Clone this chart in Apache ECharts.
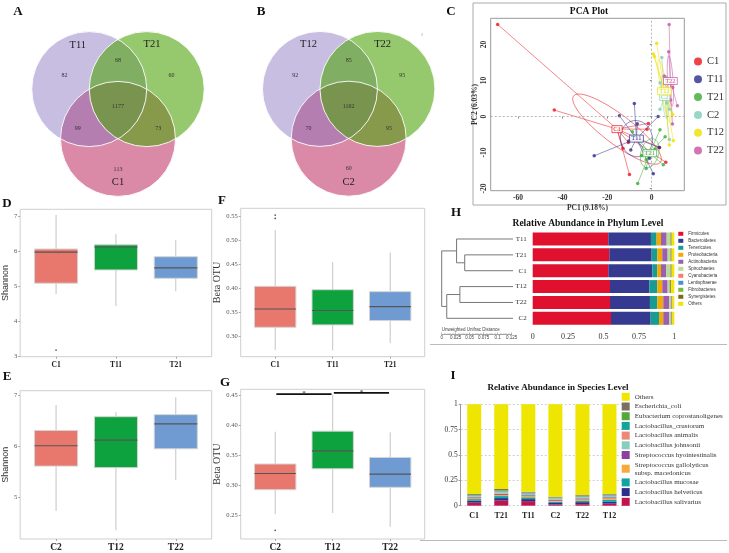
<!DOCTYPE html>
<html><head><meta charset="utf-8">
<script src="https://cdn.jsdelivr.net/npm/echarts@6/dist/echarts.min.js"></script>
<style>html,body{margin:0;padding:0;background:#fff}#c{width:729px;height:553px}</style>
</head><body><div id="c"></div>
<script>
// ---------------- DATA ----------------
// Venn A / B: region counts in order [only1, only2, only3, 1&2, 1&3, 2&3, all]
const vennA_sets = ['T11', 'T21', 'C1'];
const vennA_counts = [82, 60, 113, 68, 99, 73, 1177];
const vennB_sets = ['T12', 'T22', 'C2'];
const vennB_counts = [92, 95, 60, 85, 70, 95, 1162];

// PCA
const pcaGroups = ['C1', 'T11', 'T21', 'C2', 'T12', 'T22'];
const pcaC1 = [[-69.1,25.6],[-43.7,1.8],[-12.9,-8.8],[-10.5,-7.2],[-10.0,-16.1],[-2.1,-3.5],[-1.5,-1.9],[3.5,-8.6],[6.3,-12.7]];
const pcaT11 = [[-25.8,-10.9],[-14.5,0.2],[-7.8,3.6],[2.9,0.0],[-10.3,-6.8],[-9.4,-9.3],[0.7,-15.9],[3.3,-8.6],[-1.0,-11.6],[-6.5,-2.0]];
const pcaT21 = [[-6.3,-18.6],[-2.5,-12.0],[-4.5,-10.8],[3.7,-3.7],[6.0,-5.6],[5.2,-13.4],[-2.5,-14.4],[-8.7,-4.2],[1.5,-9.0]];
const pcaC2 = [[4.5,16.4],[3.7,9.4],[3.7,2.0],[7.9,-6.4],[6.4,11.0],[6.8,3.8],[8.0,2.0]];
const pcaT12 = [[2.2,20.4],[0.7,17.4],[1.2,16.7],[9.4,0.6],[9.7,-6.7],[7.9,-7.9],[6.5,6.0],[8.2,9.7]];
const pcaT22 = [[7.8,25.6],[7.6,18.0],[5.6,11.3],[9.4,8.1],[11.5,3.0],[9.3,-2.1],[7.2,10.5],[8.5,4.6]];
const pcaXTicks = [-60, -40, -20, 0];
const pcaYTicks = [-20, -10, 0, 10, 20];

// Box plots: [min, Q1, median, Q3, max]
const catsD = ['C1', 'T11', 'T21'];
const boxD = [[4.78,5.09,5.98,6.07,7.05],[4.43,5.47,6.13,6.19,6.50],[4.86,5.23,5.53,5.85,6.33]];
const outD = [[1, 3.17]];
const ticksD = [3, 4, 5, 6, 7];

const catsF = ['C1', 'T11', 'T21'];
const boxF = [[0.272,0.319,0.357,0.404,0.521],[0.271,0.324,0.354,0.397,0.454],[0.286,0.333,0.362,0.393,0.474]];
const outF = [[1, 0.552], [1, 0.545]];
const ticksF = [0.30, 0.35, 0.40, 0.45, 0.50, 0.55];

const catsE = ['C2', 'T12', 'T22'];
const boxE = [[4.73,5.61,6.01,6.31,6.81],[4.35,5.58,6.12,6.58,6.67],[5.34,5.95,6.44,6.62,6.96]];
const ticksE = [5, 6, 7];

const catsG = ['C2', 'T12', 'T22'];
const boxG = [[0.251,0.292,0.319,0.335,0.389],[0.253,0.327,0.357,0.390,0.451],[0.230,0.296,0.318,0.346,0.388]];
const outG = [[1, 0.224]];
const ticksG = [0.25, 0.30, 0.35, 0.40, 0.45];
const sigG = [[1, 2, 0.452, '*'], [2, 3, 0.454, '*']];

// Phylum level (rows top to bottom)
const phylumSamples = ['T11', 'T21', 'C1', 'T12', 'T22', 'C2'];
const phylumNames = ['Firmicutes','Bacteroidetes','Tenericutes','Proteobacteria','Actinobacteria','Spirochaetes','Cyanobacteria','Lentisphaerae','Fibrobacteres','Synergistetes','Others'];
const phFirmicutes     = [0.534,0.541,0.534,0.546,0.546,0.553];
const phBacteroidetes  = [0.301,0.299,0.311,0.278,0.282,0.280];
const phTenericutes    = [0.040,0.040,0.035,0.056,0.052,0.059];
const phProteobacteria = [0.031,0.035,0.026,0.035,0.042,0.030];
const phActinobacteria = [0.040,0.038,0.038,0.038,0.043,0.043];
const phSpirochaetes   = [0.023,0.016,0.025,0.012,0.009,0.009];
const phCyanobacteria  = [0.002,0.002,0.002,0.002,0.002,0.002];
const phLentisphaerae  = [0.002,0.002,0.002,0.002,0.002,0.002];
const phFibrobacteres  = [0.003,0.003,0.003,0.003,0.003,0.003];
const phSynergistetes  = [0.005,0.005,0.005,0.005,0.005,0.005];
const phOthers         = [0.019,0.019,0.019,0.023,0.014,0.014];
// dendrogram merges: [childA, childB, height, nodeName]
const dendroMerges = [['T21','C1',0.086,'n1'],['T11','n1',0.1005,'n2'],['T12','T22',0.0946,'n3'],['n3','C2',0.118,'n4'],['n2','n4',0.127,'root']];

// Species level
const speciesSamples = ['C1', 'T21', 'T11', 'C2', 'T22', 'T12'];
const speciesNames = ['Lactobacillus salivarius','Lactobacillus helveticus','Lactobacillus mucosae','Streptococcus gallolyticus subsp. macedonicus','Streptococcus hyointestinalis','Lactobacillus johnsonii','Lactobacillus animalis','Lactobacillus_crustorum','Eubacterium coprostanoligenes','Escherichia_coli','Others'];
const spSalivarius   = [0.030,0.050,0.045,0.012,0.015,0.020];
const spHelveticus   = [0.020,0.025,0.020,0.015,0.020,0.018];
const spMucosae      = [0.015,0.020,0.018,0.012,0.012,0.020];
const spGallolyticus = [0.010,0.012,0.012,0.010,0.015,0.015];
const spHyoint       = [0.008,0.010,0.008,0.010,0.010,0.010];
const spJohnsonii    = [0.010,0.015,0.012,0.010,0.012,0.012];
const spAnimalis     = [0.005,0.008,0.006,0.005,0.006,0.006];
const spCrustorum    = [0.005,0.007,0.006,0.005,0.005,0.005];
const spEubacterium  = [0.004,0.006,0.005,0.004,0.004,0.004];
const spEcoli        = [0.008,0.012,0.006,0.006,0.006,0.005];
const spOthers       = [0.885,0.835,0.862,0.911,0.895,0.885];

// ---------------- STYLE / LAYOUT ----------------
const SERIF = 'Liberation Serif';
const SANS = 'Liberation Sans';
const VENN_CENTERS = [[-0.5, 0.2887], [0.5, 0.2887], [0, -0.577]];
const VENN_REGION_POS = [[-0.93,0.52],[0.93,0.52],[0,-1.1],[0,0.78],[-0.7,-0.4],[0.7,-0.4],[0,-0.02]];
const VENN_SET_POS = [[-0.7,1.06],[0.59,1.07],[0,-1.33]];
const VENN_FILL = ['rgba(135,114,190,0.46)', 'rgba(80,163,13,0.6)', 'rgb(218,138,166)'];
const VENN_ORDER = [2, 0, 1];
const pcaColors = {C1:'#E8141C', T11:'#2B2B8C', T21:'#3AAA35', C2:'#7ECDB8', T12:'#EEE000', T22:'#C8529F'};
const pcaData = {C1:pcaC1, T11:pcaT11, T21:pcaT21, C2:pcaC2, T12:pcaT12, T22:pcaT22};
const boxColors = ['#E8786E', '#0DA23D', '#6F9BD2'];
const phylumValues = [phFirmicutes,phBacteroidetes,phTenericutes,phProteobacteria,phActinobacteria,phSpirochaetes,phCyanobacteria,phLentisphaerae,phFibrobacteres,phSynergistetes,phOthers];
const phylumColors = ['#E0102F','#35398F','#179C94','#F2A900','#9B5FB0','#B8DB95','#F08070','#4A90D0','#7AB83A','#7A6A1A','#F2E500'];
const speciesValues = [spSalivarius,spHelveticus,spMucosae,spGallolyticus,spHyoint,spJohnsonii,spAnimalis,spCrustorum,spEubacterium,spEcoli,spOthers];
const speciesColors = ['#C0144C','#2B2F8C','#12A4A4','#F7A93B','#8E3F9E','#86CFBC','#EE8878','#12A39A','#55A73A','#7D6E64','#EEE600'];

// ---------------- HELPERS ----------------
function vennSeries(idx, sets, counts) {
  return {
    type: 'custom', xAxisIndex: idx, yAxisIndex: idx, silent: true, z: 2, data: [[0, 0]],
    renderItem: function (params, api) {
      const r = api.size([1, 1])[0];
      const ch = [];
      VENN_ORDER.forEach(function (i) {
        const c = api.coord(VENN_CENTERS[i]);
        ch.push({type: 'circle', shape: {cx: c[0], cy: c[1], r: r}, style: {fill: VENN_FILL[i]}});
      });
      VENN_CENTERS.forEach(function (cc) {
        const c = api.coord(cc);
        ch.push({type: 'circle', shape: {cx: c[0], cy: c[1], r: r}, style: {fill: 'none', stroke: 'rgba(255,255,255,0.9)', lineWidth: 1}});
      });
      counts.forEach(function (n, k) {
        const p = api.coord(VENN_REGION_POS[k]);
        ch.push({type: 'text', x: p[0], y: p[1], style: {text: String(n), fill: '#333', fontSize: 6, fontFamily: SERIF, textAlign: 'center', textVerticalAlign: 'middle'}});
      });
      sets.forEach(function (s, k) {
        const p = api.coord(VENN_SET_POS[k]);
        ch.push({type: 'text', x: p[0], y: p[1], style: {text: s, fill: '#222', fontSize: 10.5, fontFamily: SERIF, textAlign: 'center', textVerticalAlign: 'middle'}});
      });
      return {type: 'group', children: ch};
    }
  };
}

function stats(pts) {
  const n = pts.length;
  let mx = 0, my = 0;
  pts.forEach(function (p) { mx += p[0]; my += p[1]; });
  mx /= n; my /= n;
  let sxx = 0, syy = 0, sxy = 0;
  pts.forEach(function (p) { sxx += (p[0]-mx)*(p[0]-mx); syy += (p[1]-my)*(p[1]-my); sxy += (p[0]-mx)*(p[1]-my); });
  sxx /= (n-1); syy /= (n-1); sxy /= (n-1);
  const a = (sxx + syy) / 2, b = Math.sqrt(((sxx - syy) / 2) ** 2 + sxy * sxy);
  return {mx: mx, my: my, l1: a + b, l2: Math.max(a - b, 0), th: 0.5 * Math.atan2(2 * sxy, sxx - syy)};
}

function pcaSpider(g) {
  const pts = pcaData[g], col = pcaColors[g], st = stats(pts), k = 0.8;
  return {
    type: 'custom', name: g + '_web', xAxisIndex: 2, yAxisIndex: 2, silent: true, z: 3, data: [[st.mx, st.my]],
    renderItem: function (params, api) {
      const c = api.coord([st.mx, st.my]);
      const ch = pts.map(function (p) {
        const q = api.coord(p);
        return {type: 'line', shape: {x1: c[0], y1: c[1], x2: q[0], y2: q[1]}, style: {stroke: col, lineWidth: 0.6, opacity: 0.85}};
      });
      const poly = [];
      for (let t = 0; t <= 72; t++) {
        const a = t / 72 * 2 * Math.PI;
        const u = k * Math.sqrt(st.l1) * Math.cos(a), v = k * Math.sqrt(st.l2) * Math.sin(a);
        poly.push(api.coord([st.mx + u * Math.cos(st.th) - v * Math.sin(st.th), st.my + u * Math.sin(st.th) + v * Math.cos(st.th)]));
      }
      ch.push({type: 'polyline', shape: {points: poly}, style: {stroke: col, fill: 'none', lineWidth: 0.7, opacity: 0.8}});
      return {type: 'group', children: ch};
    }
  };
}

function boxSeries(idx, box, name) {
  return {
    type: 'custom', name: name, xAxisIndex: idx, yAxisIndex: idx, silent: true, z: 3,
    data: box.map(function (b, i) { return [i + 1].concat(b); }),
    encode: {x: 0, y: [1, 2, 3, 4, 5]},
    renderItem: function (params, api) {
      const x = api.value(0), hw = 0.36;
      const pMin = api.coord([x, api.value(1)]), pQ1 = api.coord([x, api.value(2)]), pMed = api.coord([x, api.value(3)]),
            pQ3 = api.coord([x, api.value(4)]), pMax = api.coord([x, api.value(5)]);
      const l = api.coord([x - hw, api.value(3)])[0], r = api.coord([x + hw, api.value(3)])[0];
      return {type: 'group', children: [
        {type: 'line', shape: {x1: pMin[0], y1: pMin[1], x2: pMax[0], y2: pMax[1]}, style: {stroke: '#c9c2c2', lineWidth: 1}},
        {type: 'rect', shape: {x: l, y: pQ3[1], width: r - l, height: pQ1[1] - pQ3[1]}, style: {fill: boxColors[params.dataIndex], stroke: '#d4d4d4', lineWidth: 1}},
        {type: 'line', shape: {x1: l, y1: pMed[1], x2: r, y2: pMed[1]}, style: {stroke: '#555', lineWidth: 1.1}}
      ]};
    }
  };
}

function outSeries(idx, out) {
  return {type: 'scatter', xAxisIndex: idx, yAxisIndex: idx, silent: true, symbolSize: 1.8, itemStyle: {color: '#333'}, data: out, z: 4};
}

function boxAxes(gi, cats, ticks, ymin, ymax, dec, catFont) {
  const xa = {
    gridIndex: gi, type: 'value', min: 0.4, max: 3.6, splitLine: {show: false}, axisLine: {show: false},
    axisTick: {show: true, length: 2, customValues: [1, 2, 3], lineStyle: {color: '#aaa'}},
    axisLabel: {customValues: [1, 2, 3], formatter: function (v) { return cats[Math.round(v) - 1]; }, fontFamily: SERIF, fontWeight: 'bold', fontSize: catFont, color: '#222', margin: 4}
  };
  const ya = {
    gridIndex: gi, type: 'value', min: ymin, max: ymax, splitLine: {show: false}, axisLine: {show: false},
    axisTick: {show: true, length: 2, customValues: ticks, lineStyle: {color: '#aaa'}},
    axisLabel: {customValues: ticks, formatter: function (v) { return v.toFixed(dec); }, fontFamily: SERIF, fontSize: 6.5, color: '#555', margin: 3}
  };
  return [xa, ya];
}

const axD = boxAxes(3, catsD, ticksD, 2.98, 7.21, 0, 7.5);
const axF = boxAxes(4, catsF, ticksF, 0.258, 0.566, 2, 7.5);
const axE = boxAxes(5, catsE, ticksE, 4.18, 7.09, 0, 9.5);
const axG = boxAxes(6, catsG, ticksG, 0.2095, 0.460, 2, 9.5);
axD[1].name = 'Shannon'; axE[1].name = 'Shannon'; axF[1].name = 'Beta OTU'; axG[1].name = 'Beta OTU';
[axD[1], axE[1]].forEach(function (a) { a.nameLocation = 'middle'; a.nameGap = 5; a.nameTextStyle = {fontFamily: SANS, fontSize: 9, color: '#333'}; });
[axF[1], axG[1]].forEach(function (a) { a.nameLocation = 'middle'; a.nameGap = 17; a.nameTextStyle = {fontFamily: SERIF, fontSize: 10, color: '#333'}; });

const hidden = function (gi, min, max) { return {gridIndex: gi, type: 'value', min: min, max: max, show: false}; };
const gridBorder = {show: true, borderColor: '#cfcfcf', borderWidth: 1, backgroundColor: 'transparent'};

// ---------------- SERIES ----------------
const series = [];
series.push(vennSeries(0, vennA_sets, vennA_counts));
series.push(vennSeries(1, vennB_sets, vennB_counts));
// PCA zero lines
series.push({type: 'line', xAxisIndex: 2, yAxisIndex: 2, data: [], silent: true, z: 1,
  markLine: {silent: true, symbol: 'none', label: {show: false}, lineStyle: {color: '#999', type: [2, 2], width: 0.7},
    data: [{xAxis: 0}, {yAxis: 0}]}});
pcaGroups.forEach(function (g) { series.push(pcaSpider(g)); });
pcaGroups.forEach(function (g) {
  series.push({type: 'scatter', name: g, xAxisIndex: 2, yAxisIndex: 2, symbolSize: 3.5, itemStyle: {color: pcaColors[g]}, data: pcaData[g], z: 4});
});
series.push({
  type: 'custom', name: 'pcaLabels', xAxisIndex: 2, yAxisIndex: 2, silent: true, z: 5,
  data: pcaGroups.map(function (g) { const s = stats(pcaData[g]); return [s.mx, s.my]; }),
  renderItem: function (params, api) {
    const g = pcaGroups[params.dataIndex], col = pcaColors[g];
    const c = api.coord([api.value(0), api.value(1)]);
    const w = g.length * 3.6 + 3, h = 7;
    return {type: 'group', children: [
      {type: 'rect', shape: {x: c[0] - w / 2, y: c[1] - h / 2, width: w, height: h}, style: {fill: 'rgba(255,255,255,0.85)', stroke: col, lineWidth: 0.7}},
      {type: 'text', x: c[0], y: c[1], style: {text: g, fill: col, fontSize: 6.5, fontFamily: SERIF, textAlign: 'center', textVerticalAlign: 'middle'}}
    ]};
  }
});
// Box plots
series.push(boxSeries(3, boxD, 'boxD')); series.push(outSeries(3, outD));
series.push(boxSeries(4, boxF, 'boxF')); series.push(outSeries(4, outF));
series.push(boxSeries(5, boxE, 'boxE'));
series.push(boxSeries(6, boxG, 'boxG')); series.push(outSeries(6, outG));
series.push({
  type: 'custom', name: 'sigG', xAxisIndex: 6, yAxisIndex: 6, silent: true, z: 5, data: sigG,
  renderItem: function (params, api) {
    const a = api.coord([api.value(0) + 0.02, api.value(2)]), b = api.coord([api.value(1) - 0.02, api.value(2)]);
    return {type: 'group', children: [
      {type: 'line', shape: {x1: a[0], y1: a[1], x2: b[0], y2: b[1]}, style: {stroke: '#111', lineWidth: 1.6}},
      {type: 'text', x: (a[0] + b[0]) / 2, y: a[1] - 1, style: {text: sigG[params.dataIndex][3], fill: '#111', fontSize: 7, fontFamily: SERIF, textAlign: 'center', textVerticalAlign: 'middle'}}
    ]};
  }
});
// Dendrogram
series.push({
  type: 'custom', name: 'dendro', xAxisIndex: 7, yAxisIndex: 7, silent: true, z: 3, data: [[0, 0]],
  renderItem: function (params, api) {
    const nodes = {};
    phylumSamples.forEach(function (s, i) { nodes[s] = {h: 0, y: i}; });
    const ch = [];
    dendroMerges.forEach(function (m) {
      const A = nodes[m[0]], B = nodes[m[1]], h = m[2];
      const pts = [api.coord([A.h, A.y]), api.coord([h, A.y]), api.coord([h, B.y]), api.coord([B.h, B.y])];
      ch.push({type: 'polyline', shape: {points: pts}, style: {stroke: '#777', lineWidth: 1, fill: 'none'}});
      nodes[m[3]] = {h: h, y: (A.y + B.y) / 2};
    });
    return {type: 'group', children: ch};
  }
});
phylumNames.forEach(function (n, i) {
  series.push({type: 'bar', name: n, stack: 'phylum', xAxisIndex: 8, yAxisIndex: 8, barWidth: 13, data: phylumValues[i], itemStyle: {color: phylumColors[i]}, silent: true});
});
speciesNames.forEach(function (n, i) {
  series.push({type: 'bar', name: n, stack: 'species', xAxisIndex: 10, yAxisIndex: 10, barWidth: 14, data: speciesValues[i], itemStyle: {color: speciesColors[i]}, silent: true});
});

// ---------------- OPTION ----------------
const option = {
  animation: false,
  backgroundColor: '#fff',
  grid: [
    {left: 3, top: 5.1, width: 230, height: 201.25},
    {left: 233.7, top: 4.9, width: 230, height: 201.25},
    {left: 490.7, top: 18.3, width: 193.6, height: 172.4, show: true, borderColor: '#999', borderWidth: 1},
    Object.assign({left: 18.3, top: 209.3, width: 193.4, height: 147.4}, gridBorder),
    Object.assign({left: 240.7, top: 208.3, width: 184, height: 148.4}, gridBorder),
    Object.assign({left: 17.3, top: 390.7, width: 194.4, height: 151}, gridBorder),
    Object.assign({left: 240.7, top: 389.3, width: 184, height: 152.4}, gridBorder),
    {left: 441.7, top: 231.06, width: 71.3, height: 95.2},
    {left: 532.7, top: 231.06, width: 141.6, height: 95.2},
    {left: 441.7, top: 333, width: 70, height: 1},
    {left: 460.7, top: 404.3, width: 162.3, height: 101.4}
  ],
  xAxis: [
    hidden(0, -2, 2), hidden(1, -2, 2),
    {gridIndex: 2, type: 'value', min: -72.2, max: 14.6, splitLine: {show: false}, axisLine: {show: false},
      axisTick: {show: true, length: 2, customValues: pcaXTicks, lineStyle: {color: '#888'}},
      axisLabel: {customValues: pcaXTicks, fontFamily: SERIF, fontWeight: 'bold', fontSize: 7.5, color: '#333', margin: 3},
      name: 'PC1 (9.18%)', nameLocation: 'middle', nameGap: 13, nameTextStyle: {fontFamily: SERIF, fontWeight: 'bold', fontSize: 7.5, color: '#333'}},
    axD[0], axF[0], axE[0], axG[0],
    {gridIndex: 7, type: 'value', min: 0, max: 0.127, inverse: true, show: false},
    {gridIndex: 8, type: 'value', min: 0, max: 1, interval: 0.25, splitLine: {show: false}, axisLine: {show: false}, axisTick: {show: false},
      axisLabel: {fontFamily: SERIF, fontSize: 8, color: '#333', margin: 7}},
    {gridIndex: 9, type: 'value', min: 0, max: 0.125, interval: 0.025, splitLine: {show: false},
      axisLine: {show: true, lineStyle: {color: '#666', width: 0.6}}, axisTick: {show: true, length: 1.5, inside: true, lineStyle: {color: '#666', width: 0.5}},
      minorTick: {show: true, splitNumber: 5, length: 1, lineStyle: {color: '#666', width: 0.4}},
      axisLabel: {fontFamily: SANS, fontSize: 4.5, color: '#444', margin: 1.5}},
    {gridIndex: 10, type: 'category', data: speciesSamples, axisLine: {show: false}, axisTick: {show: false},
      axisLabel: {fontFamily: SERIF, fontWeight: 'bold', fontSize: 8, color: '#222', margin: 6}}
  ],
  yAxis: [
    hidden(0, -1.75, 1.75), hidden(1, -1.75, 1.75),
    {gridIndex: 2, type: 'value', min: -20.6, max: 27.3, splitLine: {show: false}, axisLine: {show: false},
      axisTick: {show: true, length: 2, customValues: pcaYTicks, lineStyle: {color: '#888'}},
      axisLabel: {customValues: pcaYTicks, rotate: 90, fontFamily: SERIF, fontWeight: 'bold', fontSize: 7.5, color: '#333', margin: 3},
      name: 'PC2 (6.03%)', nameLocation: 'middle', nameGap: 11, nameTextStyle: {fontFamily: SERIF, fontWeight: 'bold', fontSize: 7.5, color: '#333'}},
    axD[1], axF[1], axE[1], axG[1],
    {gridIndex: 7, type: 'value', min: -0.5, max: 5.5, inverse: true, show: false},
    {gridIndex: 8, type: 'category', data: phylumSamples, inverse: true, axisLine: {show: false}, axisTick: {show: false},
      axisLabel: {fontFamily: SERIF, fontSize: 7, color: '#333', margin: 6}},
    {gridIndex: 9, type: 'value', show: false},
    {gridIndex: 10, type: 'value', min: 0, max: 1, interval: 0.25,
      axisLine: {show: true, lineStyle: {color: '#999'}}, axisTick: {show: true, length: 2, lineStyle: {color: '#999'}},
      splitLine: {show: true, lineStyle: {color: '#bbb', type: [2, 2], width: 0.7}},
      axisLabel: {fontFamily: SERIF, fontSize: 7.5, color: '#333', margin: 3, formatter: function (v) { return String(v); }}}
  ],
  legend: [
    {data: pcaGroups, orient: 'vertical', left: 694, top: 56, padding: 0, icon: 'circle', itemWidth: 8, itemHeight: 8, itemGap: 6.8, selectedMode: false,
      textStyle: {fontFamily: SERIF, fontSize: 10.5, color: '#333', lineHeight: 10}},
    {data: phylumNames, orient: 'vertical', left: 678.3, top: 231.3, padding: 0, icon: 'rect', itemWidth: 5, itemHeight: 4, itemGap: 2, selectedMode: false,
      textStyle: {fontFamily: SANS, fontSize: 4.5, color: '#333', lineHeight: 4}},
    {data: speciesNames.slice().reverse(), orient: 'vertical', left: 621.7, top: 392.8, padding: 0, icon: 'rect', itemWidth: 8, itemHeight: 8, itemGap: 1.7, selectedMode: false,
      formatter: function (n) { return n.replace(' subsp.', '\nsubsp.'); },
      textStyle: {fontFamily: SERIF, fontSize: 7, color: '#333', lineHeight: 8}}
  ],
  graphic: [
    {type: 'rect', shape: {x: 473, y: 3, width: 253, height: 202}, style: {fill: 'none', stroke: '#aaa', lineWidth: 1}, silent: true},
    {type: 'line', shape: {x1: 430, y1: 344.5, x2: 727, y2: 344.5}, style: {stroke: '#bbb', lineWidth: 1}, silent: true},
    {type: 'line', shape: {x1: 420, y1: 540.5, x2: 727, y2: 540.5}, style: {stroke: '#bbb', lineWidth: 1}, silent: true},
    {type: 'text', x: 18, y: 12, style: {text: 'A', font: 'bold 13px "Liberation Serif"', fill: '#111', textAlign: 'center', textVerticalAlign: 'middle'}},
    {type: 'text', x: 261, y: 12, style: {text: 'B', font: 'bold 13px "Liberation Serif"', fill: '#111', textAlign: 'center', textVerticalAlign: 'middle'}},
    {type: 'text', x: 451, y: 12, style: {text: 'C', font: 'bold 13px "Liberation Serif"', fill: '#111', textAlign: 'center', textVerticalAlign: 'middle'}},
    {type: 'text', x: 7, y: 204, style: {text: 'D', font: 'bold 13px "Liberation Serif"', fill: '#111', textAlign: 'center', textVerticalAlign: 'middle'}},
    {type: 'text', x: 222, y: 201, style: {text: 'F', font: 'bold 13px "Liberation Serif"', fill: '#111', textAlign: 'center', textVerticalAlign: 'middle'}},
    {type: 'text', x: 7, y: 377, style: {text: 'E', font: 'bold 13px "Liberation Serif"', fill: '#111', textAlign: 'center', textVerticalAlign: 'middle'}},
    {type: 'text', x: 225, y: 383, style: {text: 'G', font: 'bold 13px "Liberation Serif"', fill: '#111', textAlign: 'center', textVerticalAlign: 'middle'}},
    {type: 'text', x: 456, y: 213, style: {text: 'H', font: 'bold 13px "Liberation Serif"', fill: '#111', textAlign: 'center', textVerticalAlign: 'middle'}},
    {type: 'text', x: 453, y: 376, style: {text: 'I', font: 'bold 13px "Liberation Serif"', fill: '#111', textAlign: 'center', textVerticalAlign: 'middle'}},
    {type: 'text', x: 422, y: 35, style: {text: '1', font: '5px "Liberation Serif"', fill: '#5cb85c', textAlign: 'center', textVerticalAlign: 'middle'}},
    {type: 'text', x: 589, y: 12, style: {text: 'PCA Plot', font: 'bold 9.5px "Liberation Serif"', fill: '#111', textAlign: 'center', textVerticalAlign: 'middle'}},
    {type: 'text', x: 588, y: 224, style: {text: 'Relative Abundance in Phylum Level', font: 'bold 9.5px "Liberation Serif"', fill: '#111', textAlign: 'center', textVerticalAlign: 'middle'}},
    {type: 'text', x: 558, y: 388, style: {text: 'Relative Abundance in Species Level', font: 'bold 9px "Liberation Serif"', fill: '#111', textAlign: 'center', textVerticalAlign: 'middle'}},
    {type: 'text', x: 441.7, y: 329.5, style: {text: 'Unweighted Unifrac Distance', font: '4.5px "Liberation Sans"', fill: '#444', textAlign: 'left', textVerticalAlign: 'middle'}}
  ],
  series: series
};

const chart = echarts.init(document.getElementById('c'), null, {renderer: 'canvas', width: 729, height: 553});
chart.setOption(option);
</script>
</body></html>
